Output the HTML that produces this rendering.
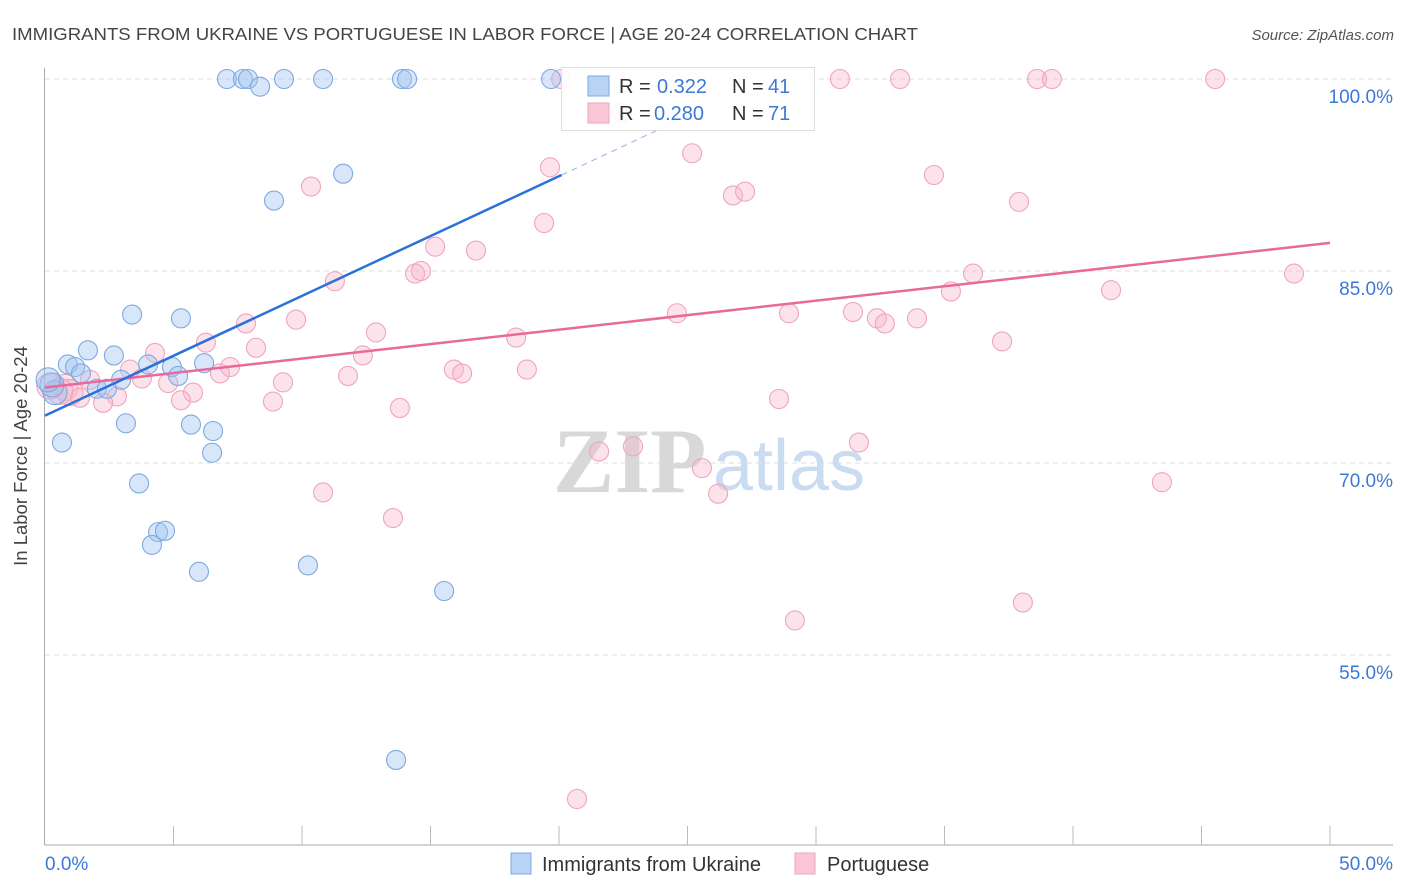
<!DOCTYPE html>
<html><head><meta charset="utf-8">
<style>
body{margin:0;background:#fff;font-family:"Liberation Sans",sans-serif;}
svg{display:block}
</style></head>
<body>
<svg id="chart" width="1406" height="892" xmlns="http://www.w3.org/2000/svg">
<text x="12" y="40" font-size="17.5" fill="#444" textLength="906" lengthAdjust="spacingAndGlyphs">IMMIGRANTS FROM UKRAINE VS PORTUGUESE IN LABOR FORCE | AGE 20-24 CORRELATION CHART</text>
<text x="1394" y="40" font-size="15" fill="#555" text-anchor="end" font-style="italic">Source: ZipAtlas.com</text>
<g>
<text x="553" y="492" font-size="92" font-family="Liberation Serif,serif" fill="#d8d8d8" font-weight="bold">ZIP</text>
<text x="713" y="490" font-size="72" fill="#c9dcf2">atlas</text>
</g>
<g id="grid"></g>
<g id="axes"></g>
<g id="pts"></g>
<g id="trends"></g>
<text x="27" y="456" font-size="18.5" fill="#444" text-anchor="middle" transform="rotate(-90 27 456)">In Labor Force | Age 20-24</text>
<g>
<rect x="561.5" y="67.5" width="253" height="63" fill="rgba(255,255,255,0.88)" stroke="#ddd"/>
<rect x="588" y="76" width="21" height="20" fill="#b9d3f5" stroke="#7fa9e0"/>
<text x="619" y="93" font-size="20" fill="#333">R = </text>
<text x="657" y="93" font-size="20" fill="#3b78d8">0.322</text>
<text x="732" y="93" font-size="20" fill="#333">N = </text>
<text x="768" y="93" font-size="20" fill="#3b78d8">41</text>
<rect x="588" y="103" width="21" height="20" fill="#f9c6d6" stroke="#eea5bd"/>
<text x="619" y="120" font-size="20" fill="#333">R = </text>
<text x="654" y="120" font-size="20" fill="#3b78d8">0.280</text>
<text x="732" y="120" font-size="20" fill="#333">N = </text>
<text x="768" y="120" font-size="20" fill="#3b78d8">71</text>
</g>
<g>
<rect x="511" y="853" width="20" height="21" fill="#b9d3f5" stroke="#7fa9e0"/>
<text x="542" y="871" font-size="20" fill="#333">Immigrants from Ukraine</text>
<rect x="795" y="853" width="20" height="21" fill="#f9c6d6" stroke="#eea5bd"/>
<text x="827" y="871" font-size="20" fill="#333">Portuguese</text>
</g>
</svg>
<script>
const yTicks=[55,70,85,100];
const xTickLabels=["0.0%","50.0%"];
const ukraineX=[7.08,7.70,7.90,8.37,9.30,10.82,13.89,14.09,19.69,8.91,11.60,3.39,5.29,1.67,2.68,0.89,1.17,1.40,4.01,4.94,6.19,5.18,2.96,2.02,2.41,0.39,0.27,3.15,5.68,6.54,0.66,6.50,3.66,4.40,4.67,4.16,5.99,10.23,15.53,13.66,0.12];
const ukraineY=[100,100,100,99.4,100,100,100,100,100,90.5,92.6,81.6,81.3,78.8,78.4,77.7,77.5,77.0,77.7,77.5,77.8,76.8,76.5,75.8,75.8,75.5,76.1,73.1,73.0,72.5,71.6,70.8,68.4,64.6,64.7,63.6,61.5,62.0,60.0,46.8,76.5];
const portX=[20.08,22.45,30.93,33.27,38.60,39.18,45.53,25.18,19.65,10.35,26.77,27.24,34.59,37.90,19.42,15.18,16.77,11.28,14.40,14.63,36.11,48.60,35.25,41.48,9.77,7.82,12.88,18.33,24.59,28.95,31.44,32.37,32.68,33.93,37.24,6.26,8.21,12.37,4.28,15.91,16.23,18.75,3.31,6.81,7.20,11.79,3.77,1.75,4.79,9.26,0.78,0.97,5.76,2.80,1.36,2.26,5.29,8.87,13.81,28.56,31.67,22.88,21.56,25.56,26.19,43.46,10.82,13.54,38.05,29.18,20.70,0.19,0.58];
const portY=[100,97.4,100,100,100,100,100,94.2,93.1,91.6,90.9,91.2,92.5,90.4,88.75,86.9,86.6,84.2,84.8,85.0,84.8,84.8,83.4,83.5,81.2,80.9,80.2,79.8,81.7,81.7,81.8,81.3,80.9,81.3,79.5,79.4,79.0,78.4,78.6,77.3,77.0,77.3,77.3,77.0,77.5,76.8,76.6,76.5,76.25,76.3,75.9,75.5,75.5,75.2,75.1,74.7,74.9,74.8,74.3,75.0,71.6,71.3,70.9,69.6,67.6,68.5,67.7,65.7,59.1,57.7,43.75,76.0,75.6];
const ukraineTrend=[[0,73.7],[20.1,92.5]];
const ukraineTrendExt=[[20.1,92.5],[25,97.1]];
const portTrend=[[0,75.9],[50,87.2]];

const NS="http://www.w3.org/2000/svg";
const X=v=>45+v*25.7;
const Y=v=>79+(100-v)*12.8;
function mk(tag,attrs,parent){const e=document.createElementNS(NS,tag);for(const k in attrs)e.setAttribute(k,attrs[k]);parent.appendChild(e);return e;}
const grid=document.getElementById('grid'),axes=document.getElementById('axes'),pts=document.getElementById('pts'),tr=document.getElementById('trends');
yTicks.forEach(t=>{
 const l=mk('line',{x1:45,x2:1393,y1:Y(t),y2:Y(t),stroke:'#ddd','stroke-dasharray':'5,4'},grid);
 
 
 const tx=mk('text',{x:1393,y:Y(t)+24,'font-size':19,fill:'#3b78d8','text-anchor':'end'},axes);
 tx.textContent=t.toFixed(1)+'%';
 
 
});
mk('line',{x1:44.5,x2:44.5,y1:68,y2:845,stroke:'#aaa'},axes);
mk('line',{x1:44.5,x2:1393,y1:845,y2:845,stroke:'#aaa'},axes);
for(let i=1;i<=10;i++){const t=mk('line',{x1:X(i*5),x2:X(i*5),y1:826,y2:845,stroke:'#bbb'},axes);
 
 }
const xl0=mk('text',{x:45,y:870,'font-size':19,fill:'#3b78d8'},axes);xl0.textContent=xTickLabels[0];


const xl1=mk('text',{x:1393,y:870,'font-size':19,fill:'#3b78d8','text-anchor':'end'},axes);xl1.textContent=xTickLabels[1];



portX.forEach((v,i)=>{const c=mk('circle',{cx:X(v),cy:Y(portY[i]),r:(v<1?13:9.5),fill:'rgba(248,182,202,0.38)',stroke:'#eea5bd','stroke-width':1.1},pts);
 
 });
ukraineX.forEach((v,i)=>{const c=mk('circle',{cx:X(v),cy:Y(ukraineY[i]),r:(v<0.5?12:9.5),fill:'rgba(160,196,240,0.42)',stroke:'#7fa9e0','stroke-width':1.1},pts);
 
 });
const pl=mk('line',{x1:X(portTrend[0][0]),y1:Y(portTrend[0][1]),x2:X(portTrend[1][0]),y2:Y(portTrend[1][1]),stroke:'#e8699a','stroke-width':2.5},tr);


const ul=mk('line',{x1:X(ukraineTrend[0][0]),y1:Y(ukraineTrend[0][1]),x2:X(ukraineTrend[1][0]),y2:Y(ukraineTrend[1][1]),stroke:'#2a72d8','stroke-width':2.5},tr);


const ud=mk('line',{x1:X(ukraineTrendExt[0][0]),y1:Y(ukraineTrendExt[0][1]),x2:X(ukraineTrendExt[1][0]),y2:Y(ukraineTrendExt[1][1]),stroke:'#8fb4e6','stroke-width':1,'stroke-dasharray':'6,5'},tr);


</script>
</body></html>
